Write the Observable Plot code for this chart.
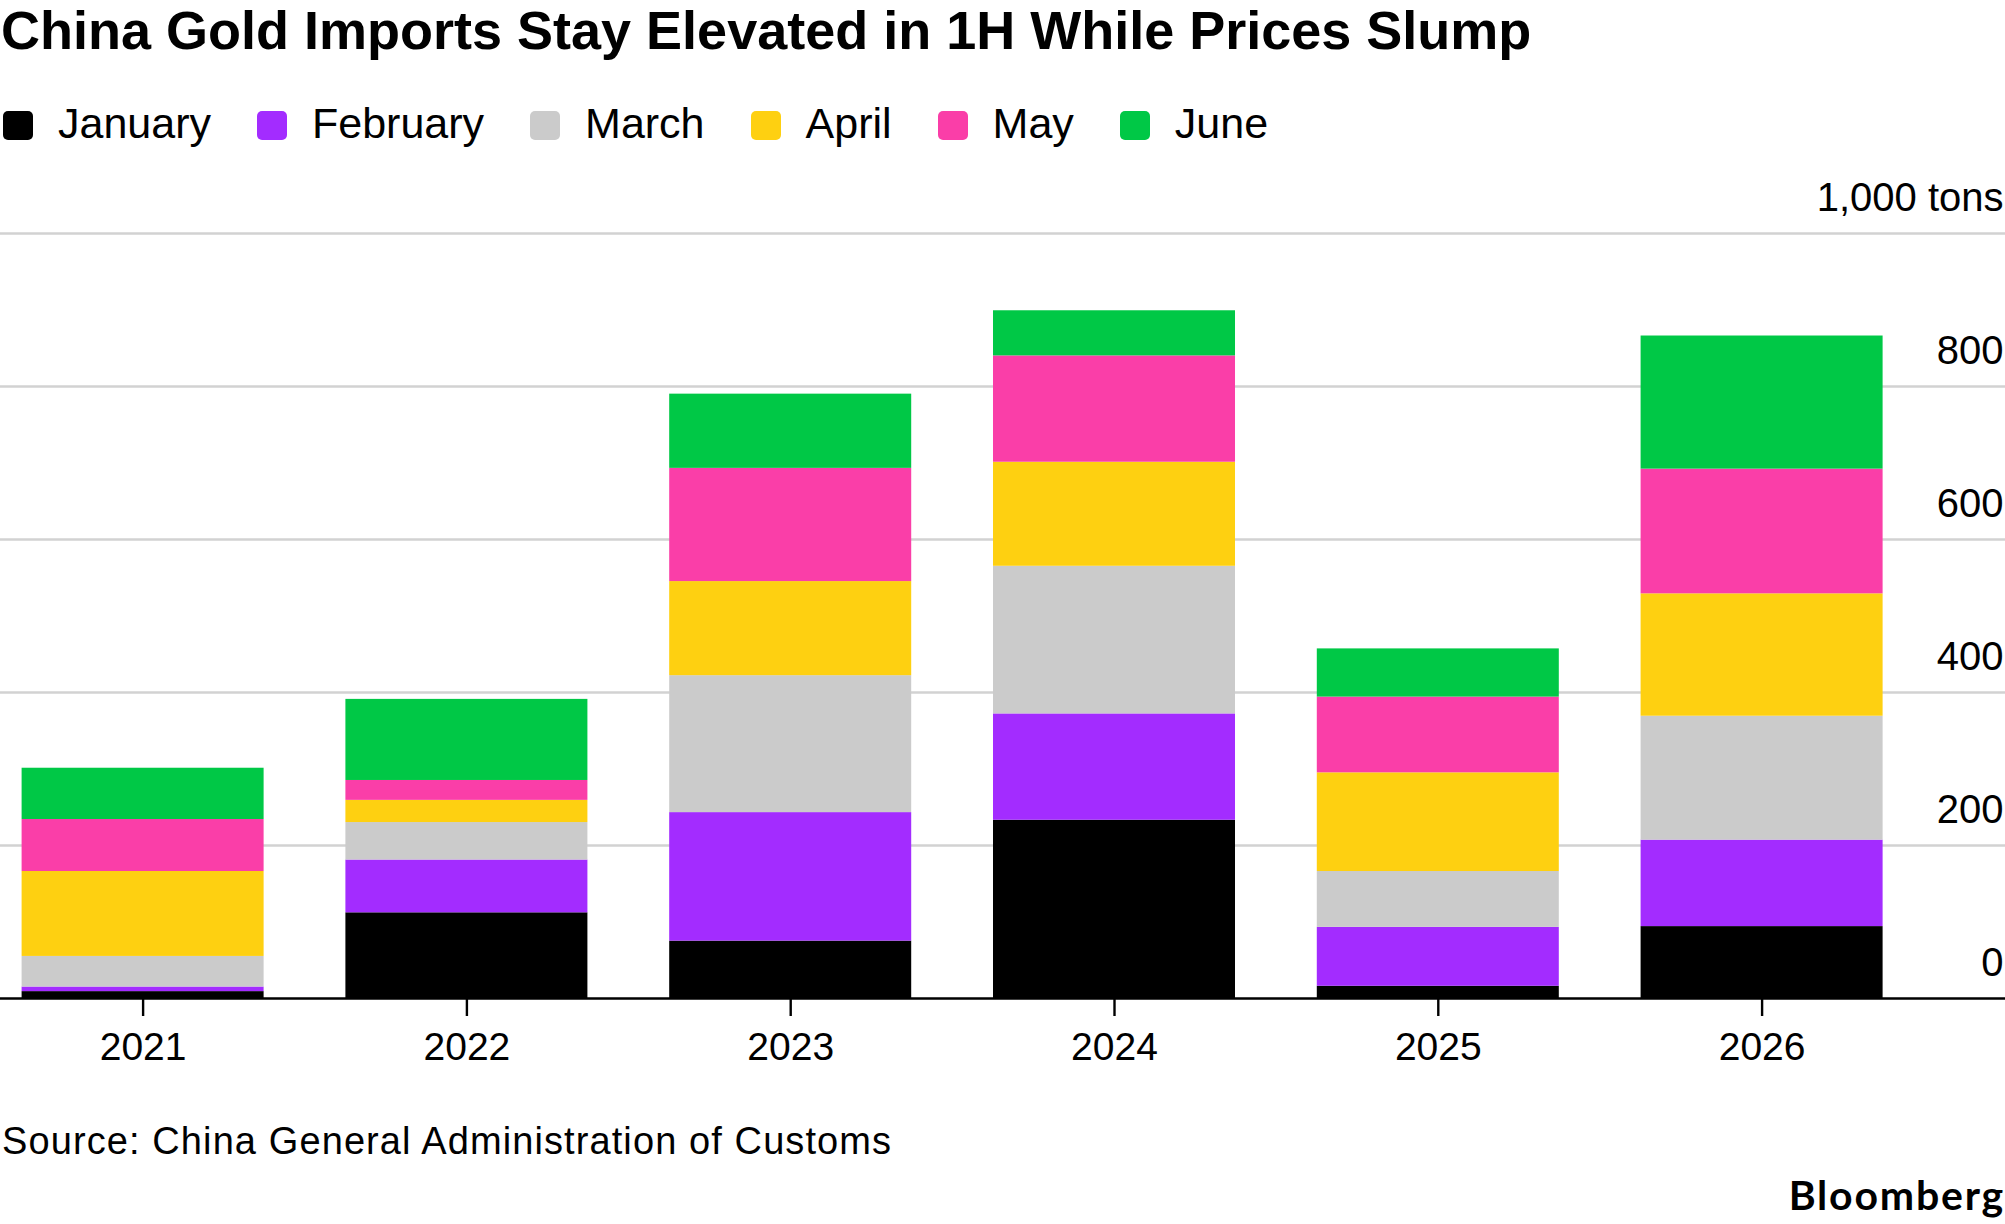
<!DOCTYPE html>
<html>
<head>
<meta charset="utf-8">
<script src="https://cdn.jsdelivr.net/npm/d3@7"></script>
<script src="https://cdn.jsdelivr.net/npm/@observablehq/plot@0.6"></script>
<style>
  html, body { margin: 0; padding: 0; background: #fff; }
  #page { position: relative; width: 2005px; height: 1224px; overflow: hidden; font-family: "Liberation Sans", Arial, sans-serif; color: #000; }
  .abs { position: absolute; line-height: 1; white-space: nowrap; }
  #title { left: 1px; top: 3px; font-size: 54px; font-weight: 700; letter-spacing: 0px; }
  #legend { left: 3px; top: 102px; height: 43px; display: flex; align-items: center; font-size: 43px; }
  .item { display: flex; align-items: center; margin-right: 46px; }
  .sw { width: 30px; height: 29px; border-radius: 5px; margin-right: 25px; margin-top: 4px; }
  #chart { position: absolute; left: 0; top: 170px; }
  #source { left: 2px; top: 1122px; font-size: 38px; letter-spacing: 1.1px; }
  #brand { right: 0px; top: 1174px; font-size: 41px; font-weight: 700; letter-spacing: 1.8px; font-family: Lato, "Liberation Sans", sans-serif; }
</style>
</head>
<body>
<div id="page">
  <div id="title" class="abs">China Gold Imports Stay Elevated in 1H While Prices Slump</div>
  <div id="legend" class="abs"></div>
  <div id="chart"></div>
  <div id="source" class="abs">Source: China General Administration of Customs</div>
  <div id="brand" class="abs">Bloomberg</div>
</div>
<script>
const years = ["2021", "2022", "2023", "2024", "2025", "2026"];
const months = ["January", "February", "March", "April", "May", "June"];
const january  = [9, 112, 75, 233, 16, 94];
const february = [6, 69, 168, 139, 77, 113];
const march    = [40, 49, 179, 193, 73, 162];
const april    = [111, 29, 123, 136, 129, 160];
const may      = [68, 26, 148, 139, 99, 163];
const june     = [67, 106, 97, 59, 63, 174];
const colors = ["#000000", "#a32cff", "#cbcbcb", "#fed011", "#fa3ea8", "#00c846"];
const yTicks = [0, 200, 400, 600, 800, 1000];
const yTickLabels = ["0", "200", "400", "600", "800", "1,000 tons"];

const series = [january, february, march, april, may, june];
const data = years.flatMap((year, i) => months.map((month, m) => ({year, month, value: series[m][i]})));
const ticks = yTicks.map((v, i) => ({v, label: yTickLabels[i]}));

// legend
const legend = document.getElementById("legend");
months.forEach((m, i) => {
  const item = document.createElement("div");
  item.className = "item";
  const sw = document.createElement("span");
  sw.className = "sw";
  sw.style.background = colors[i];
  const t = document.createElement("span");
  t.textContent = m;
  item.appendChild(sw);
  item.appendChild(t);
  legend.appendChild(item);
});

const chart = Plot.plot({
  width: 2005,
  height: 920,
  marginLeft: 0,
  marginRight: 0,
  marginTop: 63,
  marginBottom: 92,
  style: {fontFamily: "'Liberation Sans', Arial, sans-serif", fontSize: "39px", color: "#000", background: "#fff"},
  x: {type: "band", domain: years, range: [21.6, 1882.6], paddingInner: 0.2526, paddingOuter: 0, round: false, label: null},
  y: {domain: [0, 1000], label: null, axis: null},
  color: {domain: months, range: colors},
  marks: [
    Plot.ruleY(yTicks.filter(d => d > 0), {stroke: "#d2d2d2", strokeWidth: 2.4}),
    Plot.barY(data, {x: "year", y: "value", fill: "month"}),
    Plot.ruleY([0], {stroke: "#000", strokeWidth: 2.6}),
    Plot.axisX({tickSize: 18, tickPadding: 16, fontSize: 39, stroke: "#000", strokeWidth: 2.4, label: null}),
    Plot.text(ticks, {y: "v", text: "label", frameAnchor: "right", textAnchor: "end", lineAnchor: "bottom", dx: -2, dy: -23, fontSize: 40, fill: "#000", style: "letter-spacing:0.6px"})
  ]
});
document.getElementById("chart").appendChild(chart);
</script>
</body>
</html>
